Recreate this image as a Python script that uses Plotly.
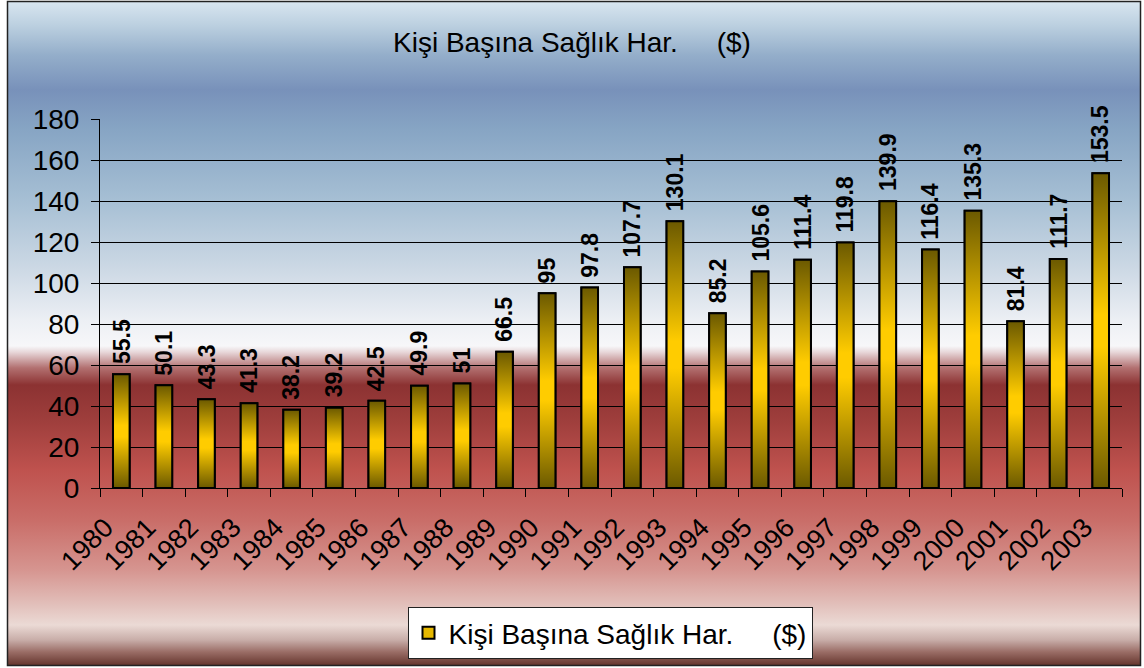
import base64
import plotly.graph_objects as go

# data
years = ["1980", "1981", "1982", "1983", "1984", "1985", "1986", "1987", "1988", "1989",
         "1990", "1991", "1992", "1993", "1994", "1995", "1996", "1997", "1998", "1999",
         "2000", "2001", "2002", "2003"]
spending = [55.5, 50.1, 43.3, 41.3, 38.2, 39.2, 42.5, 49.9, 51, 66.5,
            95, 97.8, 107.7, 130.1, 85.2, 105.6, 111.4, 119.8, 139.9, 116.4,
            135.3, 81.4, 111.7, 153.5]
labels = ["55.5", "50.1", "43.3", "41.3", "38.2", "39.2", "42.5", "49.9", "51", "66.5",
          "95", "97.8", "107.7", "130.1", "85.2", "105.6", "111.4", "119.8", "139.9", "116.4",
          "135.3", "81.4", "111.7", "153.5"]
y_ticks = [0, 20, 40, 60, 80, 100, 120, 140, 160, 180]

NB = "\u00a0"
series_name = "Kişi Başına Sağlık Har." + NB * 5 + "($)"

W, H = 1144, 668
L, R, T, B = 100, 22, 119, 180
PW, PH = W - L - R, H - T - B
BAR_W = 0.39
DARK = "#6b5900"
GOLD = "#ffcc00"
FONT = "Liberation Sans, Arial, sans-serif"


def px_x(p):
    return (p - L) / PW


# background gradient of the chart area (Excel style)
stops = [(0, "#dae7f1"), (25, "#bcd0e0"), (55, "#94aeca"), (90, "#7891ba"), (130, "#87a5c4"),
         (200, "#a6bfd4"), (270, "#cdd9e5"), (320, "#eceff4"), (346, "#f7f7f9"), (352, "#e8d8da"),
         (368, "#b27070"), (385, "#8c3232"), (420, "#9e3e3c"), (470, "#bf524e"), (520, "#c96d68"),
         (570, "#d69590"), (605, "#e2c0bb"), (625, "#ebdad5"), (640, "#c8ada8"), (652, "#9a6d66"),
         (668, "#5a2a22")]
stop_xml = "".join(f'<stop offset="{y / H:.4f}" stop-color="{c}"/>' for y, c in stops)
svg = (f'<svg xmlns="http://www.w3.org/2000/svg" width="{W}" height="{H}" viewBox="0 0 {W} {H}" '
       f'preserveAspectRatio="none"><defs><linearGradient id="g" gradientUnits="userSpaceOnUse" '
       f'x1="0" y1="0" x2="0" y2="{H}">{stop_xml}</linearGradient></defs>'
       f'<rect x="0" y="0" width="{W}" height="{H}" fill="white"/>'
       f'<rect x="7.5" y="1.5" width="1133" height="664" fill="url(#g)" stroke="#222" stroke-width="1.5"/></svg>')
bg_src = "data:image/svg+xml;base64," + base64.b64encode(svg.encode()).decode()

xs = list(range(len(years)))

fig = go.Figure()

# bars: outline and legend icon
fig.add_trace(go.Bar(
    x=xs, y=spending, width=BAR_W, name=series_name,
    marker=dict(color="#e6b800", line=dict(color="black", width=2)),
    hoverinfo="x+y",
))

# gradient fill of each bar (scatter polygons drawn over the bars)
for i, v in zip(xs, spending):
    fig.add_trace(go.Scatter(
        x=[i - BAR_W / 2, i + BAR_W / 2, i + BAR_W / 2, i - BAR_W / 2, i - BAR_W / 2],
        y=[0, 0, v, v, 0],
        mode="lines", fill="toself", line=dict(color="black", width=2),
        fillgradient=dict(type="vertical",
                          colorscale=[[0, DARK], [0.45, GOLD], [0.55, GOLD], [1, DARK]]),
        showlegend=False, hoverinfo="skip",
    ))

# rotated value labels above the bars
for i, v, t in zip(xs, spending, labels):
    fig.add_annotation(x=i, y=v, text=t, textangle=-90, showarrow=False,
                       xanchor="center", yanchor="bottom", yshift=8,
                       font=dict(family=FONT, size=23, color="black", weight="bold"))

fig.update_layout(
    width=W, height=H,
    margin=dict(l=L, r=R, t=T, b=B, autoexpand=False),
    paper_bgcolor="white", plot_bgcolor="rgba(0,0,0,0)",
    font=dict(family=FONT, color="black"),
    title=dict(text="Kişi Başına Sağlık Har." + NB * 5 + "($)", x=0.5, xanchor="center",
               y=1 - 42 / H, yanchor="middle", font=dict(size=28, family=FONT)),
    showlegend=True,
    legend=dict(x=px_x(610), xanchor="center", yref="container", y=1 - 607 / H, yanchor="top",
                orientation="h", bgcolor="white", bordercolor="#222", borderwidth=1,
                font=dict(size=28, family=FONT)),
    images=[dict(source=bg_src, xref="paper", yref="paper", x=-L / PW, y=1 + T / PH,
                 sizex=W / PW, sizey=H / PH, sizing="stretch", xanchor="left", yanchor="top",
                 layer="below")],
)

fig.update_xaxes(
    range=[-0.5, len(years) - 0.5], tickvals=xs, ticktext=years, tickangle=-45,
    ticks="", showgrid=False, zeroline=False, showline=True, linecolor="black", linewidth=1,
    tickfont=dict(size=27, family=FONT), ticklabelstandoff=12, ticklabelshift=-16,
    minor=dict(ticks="outside", ticklen=8, tickcolor="black", tick0=-0.5, dtick=1, showgrid=False),
    automargin=False,
)
fig.update_yaxes(
    range=[0, 180], tickvals=y_ticks, ticks="outside", ticklen=8, tickcolor="black",
    showgrid=True, gridcolor="black", gridwidth=1, zeroline=False,
    showline=True, linecolor="black", linewidth=1,
    tickfont=dict(size=28, family=FONT), ticklabelstandoff=6, automargin=False,
)

fig.write_html("out.html", config={"displayModeBar": False},
               post_script="document.body.style.margin='0px';")
